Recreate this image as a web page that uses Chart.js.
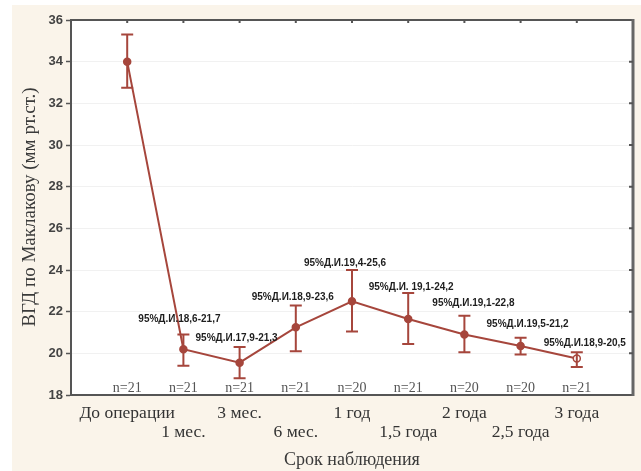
<!DOCTYPE html>
<html>
<head>
<meta charset="utf-8">
<script src="https://cdn.jsdelivr.net/npm/chart.js@4"></script>
<style>
  html, body { margin: 0; padding: 0; background: #fff; }
  #wrap { width: 641px; height: 471px; }
</style>
</head>
<body>
<div id="wrap"><canvas id="IopChart" width="641" height="471"></canvas></div>
<script>
// срок наблюдения
var periods = ['До операции', '1 мес.', '3 мес.', '6 мес.', '1 год', '1,5 года', '2 года', '2,5 года', '3 года'];
// среднее ВГД и границы бара (мм рт.ст.)
var meanIop = [34.0, 20.2, 19.55, 21.25, 22.5, 21.65, 20.9, 20.35, 19.75];
var barLow  = [32.75, 19.4, 18.8, 20.1, 21.05, 20.45, 20.05, 19.95, 19.35];
var barHigh = [35.3, 20.9, 20.3, 22.3, 24.0, 22.9, 21.8, 20.75, 20.05];
var nCount  = [21, 21, 21, 21, 20, 21, 20, 20, 21];
var ciText  = ['', '95%Д.И.18,6-21,7', '95%Д.И.17,9-21,3', '95%Д.И.18,9-23,6', '95%Д.И.19,4-25,6',
               '95%Д.И. 19,1-24,2', '95%Д.И.19,1-22,8', '95%Д.И.19,5-21,2', '95%Д.И.18,9-20,5'];

// сдвиг подписей Д.И. (px)
var ciDx = [0, -4, -3, -3, -7, 3, 9, 7, 8];
var ciDy = [0, 15, 9, 8, 7, 6, 13, 13, 9];

var red = '#a6463c';
var dark = '#555555';

var extras = {
    id: 'extras',
    beforeDraw: function(chart) {
        var ctx = chart.ctx, a = chart.chartArea;
        ctx.save();
        ctx.fillStyle = '#ffffff';
        ctx.fillRect(0, 0, chart.width, chart.height);
        ctx.fillStyle = '#faf4ea';
        ctx.fillRect(12, 5, chart.width - 12, chart.height - 5);
        ctx.fillStyle = '#ffffff';
        ctx.fillRect(a.left, a.top, a.right - a.left, a.bottom - a.top);
        ctx.restore();
    },
    afterDatasetsDraw: function(chart) {
        var ctx = chart.ctx, a = chart.chartArea;
        var xs = chart.scales.x, ys = chart.scales.y;
        ctx.save();

        // error bars
        ctx.strokeStyle = red;
        ctx.lineWidth = 2;
        for (var i = 0; i < meanIop.length; i++) {
            var px = xs.getPixelForValue(i + 1);
            var top = ys.getPixelForValue(barHigh[i]);
            var bot = ys.getPixelForValue(barLow[i]);
            ctx.beginPath();
            ctx.moveTo(px, top); ctx.lineTo(px, bot);
            ctx.moveTo(px - 6, top); ctx.lineTo(px + 6, top);
            ctx.moveTo(px - 6, bot); ctx.lineTo(px + 6, bot);
            ctx.stroke();
        }

        // top / right frame with inner ticks
        ctx.strokeStyle = dark;
        ctx.lineWidth = 2;
        ctx.beginPath();
        ctx.moveTo(a.left, a.top); ctx.lineTo(a.right, a.top);
        ctx.stroke();
        ctx.lineWidth = 3;
        ctx.strokeStyle = '#666';
        ctx.beginPath();
        ctx.moveTo(a.right, a.top - 1); ctx.lineTo(a.right, a.bottom + 1);
        ctx.stroke();
        ctx.lineWidth = 2;
        ctx.strokeStyle = dark;
        ctx.beginPath();
        for (var k = 1; k <= 9; k++) {
            var tx = xs.getPixelForValue(k);
            ctx.moveTo(tx, a.top); ctx.lineTo(tx, a.top + 3);
        }
        for (var v = 20; v < 36; v += 2) {
            var ty = ys.getPixelForValue(v);
            ctx.moveTo(a.right, ty); ctx.lineTo(a.right - 4, ty);
        }
        ctx.stroke();

        // CI labels
        ctx.fillStyle = '#1e1e1e';
        ctx.font = 'bold 10px "Liberation Sans", Arial, sans-serif';
        ctx.textAlign = 'center';
        ctx.textBaseline = 'middle';
        for (var j = 1; j < ciText.length; j++) {
            var lx = xs.getPixelForValue(j + 1) + ciDx[j];
            var ly = ys.getPixelForValue(barHigh[j]) - ciDy[j];
            ctx.fillText(ciText[j], lx, ly);
        }

        // n= labels
        ctx.fillStyle = '#555';
        ctx.font = '14px "Liberation Serif", "Times New Roman", serif';
        ctx.textBaseline = 'alphabetic';
        for (var m = 0; m < nCount.length; m++) {
            ctx.fillText('n=' + nCount[m], xs.getPixelForValue(m + 1), a.bottom - 3);
        }

        // axis titles
        ctx.fillStyle = '#3a3a3a';
        ctx.font = '18px "Liberation Serif", "Times New Roman", serif';
        ctx.textBaseline = 'middle';
        ctx.fillText('Срок наблюдения', (a.left + a.right) / 2, 460);
        ctx.font = '19px "Liberation Serif", "Times New Roman", serif';
        ctx.translate(30, 207);
        ctx.rotate(-Math.PI / 2);
        ctx.fillText('ВГД по Маклакову (мм рт.ст.)', 0, 0);
        ctx.restore();
    }
};

var ctxIop = document.getElementById('IopChart');
var myIopChart = new Chart(ctxIop, {
    type: 'line',
    data: {
        datasets: [{
            data: meanIop.map(function(v, i) { return {x: i + 1, y: v}; }),
            borderColor: red,
            borderWidth: 2,
            pointRadius: 3.5,
            pointBorderWidth: 1.5,
            pointBorderColor: red,
            pointBackgroundColor: meanIop.map(function(v, i) { return i === meanIop.length - 1 ? '#fff' : red; }),
            tension: 0
        }]
    },
    options: {
        responsive: false,
        animation: false,
        layout: { padding: { left: 0, top: 20, right: 8, bottom: 0 } },
        plugins: {
            legend: { display: false },
            tooltip: { enabled: false }
        },
        scales: {
            x: {
                type: 'linear',
                min: 0,
                max: 10,
                afterFit: function(s) { s.height = 76; },
                afterBuildTicks: function(s) {
                    s.ticks = periods.map(function(p, i) { return {value: i + 1}; });
                },
                grid: { display: true, drawOnChartArea: false, drawTicks: false },
                border: { color: dark, width: 2 },
                ticks: {
                    autoSkip: false,
                    maxRotation: 0,
                    padding: 9,
                    color: '#333',
                    font: { family: '"Liberation Serif", "Times New Roman", serif', size: 17.5, lineHeight: 1.1 },
                    callback: function(v) {
                        var i = Math.round(v) - 1;
                        if (i < 0 || i >= periods.length) return '';
                        return i % 2 === 0 ? periods[i] : ['', periods[i]];
                    }
                }
            },
            y: {
                min: 18,
                max: 36,
                afterFit: function(s) { s.width = 71; },
                grid: { color: '#f1f1f1', lineWidth: 1, tickColor: dark, tickLength: 5, tickWidth: 1.5 },
                border: { color: dark, width: 2 },
                ticks: {
                    stepSize: 2,
                    padding: 3,
                    color: '#444',
                    font: { family: '"Liberation Sans", Arial, sans-serif', size: 13, weight: 'bold' }
                }
            }
        }
    },
    plugins: [extras]
});
</script>
</body>
</html>
